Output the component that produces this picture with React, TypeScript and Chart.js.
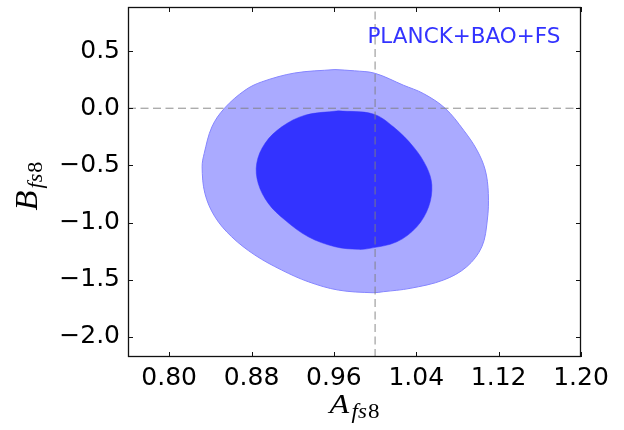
import React, { useEffect, useRef } from 'react';
import { Chart, registerables } from 'chart.js';

Chart.register(...registerables);

// ---- data ----
const outerX = [0.961, 0.98, 1.0, 1.0276, 1.047, 1.068, 1.086, 1.099, 1.107, 1.11, 1.109, 1.1037, 1.089, 1.0665, 1.034, 1.008, 0.998, 0.9643, 0.9351, 0.9093, 0.8833, 0.8607, 0.8444, 0.8347, 0.832, 0.834, 0.8415, 0.8537, 0.8736, 0.8898, 0.922];
const outerY = [0.338, 0.327, 0.305, 0.201, 0.128, 0.0, -0.192, -0.367, -0.541, -0.745, -0.978, -1.211, -1.386, -1.502, -1.575, -1.604, -1.613, -1.59, -1.517, -1.415, -1.284, -1.124, -0.949, -0.745, -0.512, -0.396, -0.163, 0.0, 0.157, 0.23, 0.308];
const innerX = [0.9643, 0.998, 1.0178, 1.0373, 1.05, 1.0551, 1.052, 1.0405, 1.0211, 0.995, 0.9838, 0.9611, 0.9351, 0.9125, 0.8963, 0.8865, 0.885, 0.893, 0.9093, 0.932];
const innerY = [-0.023, -0.05, -0.163, -0.338, -0.513, -0.672, -0.862, -1.037, -1.168, -1.225, -1.234, -1.211, -1.124, -0.978, -0.832, -0.658, -0.483, -0.308, -0.163, -0.061];

const xTicks = [0.8, 0.88, 0.96, 1.04, 1.12, 1.2];
const yTicks = [-2.0, -1.5, -1.0, -0.5, 0.0, 0.5];
const xRange = [0.76, 1.2];
const yRange = [-2.175, 0.885];
const refX = [1.0];
const refY = [0.0];
const labelText = 'PLANCK+BAO+FS';
const labelPos = [1.18, 0.567];
const xTitle = ['A', 'fs', '8'];
const yTitle = ['B', 'fs', '8'];

const closed = (xs: number[], ys: number[]) => {
  const p = xs.map((x, i) => ({ x, y: ys[i] }));
  p.push({ ...p[0] });
  return p;
};

function drawMathLabel(ctx: CanvasRenderingContext2D, parts: string[], main: number, sub: number, stretch: number) {
  const mainFont = `italic ${main}px "Liberation Serif"`;
  const subItal = `italic ${sub}px "Liberation Serif"`;
  const subNum = `${sub}px "Liberation Serif"`;
  ctx.font = mainFont;
  const w0 = ctx.measureText(parts[0]).width;
  ctx.font = subItal;
  const w1 = ctx.measureText(parts[1]).width;
  ctx.font = subNum;
  const w2 = ctx.measureText(parts[2]).width;
  const gap = 2;
  const total = w0 + gap + w1 + 1 + w2;
  ctx.scale(stretch, 1);
  let cx = -total / 2;
  ctx.textAlign = 'left';
  ctx.textBaseline = 'alphabetic';
  ctx.font = mainFont;
  ctx.fillText(parts[0], cx, 0);
  cx += w0 + gap;
  ctx.font = subItal;
  ctx.fillText(parts[1], cx, 5);
  cx += w1 + 1;
  ctx.font = subNum;
  ctx.fillText(parts[2], cx, 5);
}

const decor = {
  id: 'decor',
  afterDatasetsDraw(chart: any) {
    const { ctx, chartArea: a, scales } = chart;
    const x = scales.x;
    const y = scales.y;
    ctx.save();
    // annotation text
    ctx.fillStyle = '#3333ff';
    ctx.font = '21.5px "DejaVu Sans"';
    ctx.textAlign = 'right';
    ctx.textBaseline = 'alphabetic';
    ctx.fillText(labelText, x.getPixelForValue(labelPos[0]), y.getPixelForValue(labelPos[1]));
    // frame
    ctx.strokeStyle = '#111';
    ctx.lineWidth = 1.3;
    ctx.strokeRect(a.left + 0.5, a.top + 0.5, a.right - a.left - 1, a.bottom - a.top - 1);
    // inward ticks on all sides
    const L = 5;
    ctx.lineWidth = 1;
    ctx.beginPath();
    xTicks.forEach((v) => {
      const px = Math.round(x.getPixelForValue(v)) + 0.5;
      ctx.moveTo(px, a.bottom);
      ctx.lineTo(px, a.bottom - L);
      ctx.moveTo(px, a.top);
      ctx.lineTo(px, a.top + L);
    });
    yTicks.forEach((v) => {
      const py = Math.round(y.getPixelForValue(v)) + 0.5;
      ctx.moveTo(a.left, py);
      ctx.lineTo(a.left + L, py);
      ctx.moveTo(a.right, py);
      ctx.lineTo(a.right - L, py);
    });
    ctx.stroke();
    ctx.restore();
  },
  afterDraw(chart: any) {
    const { ctx, chartArea: a } = chart;
    ctx.save();
    ctx.fillStyle = '#000';
    ctx.translate((a.left + a.right) / 2, chart.height - 17);
    drawMathLabel(ctx, xTitle, 28, 20, 1.15);
    ctx.restore();
    ctx.save();
    ctx.fillStyle = '#000';
    ctx.translate(37, (a.top + a.bottom) / 2 + 4);
    ctx.rotate(-Math.PI / 2);
    drawMathLabel(ctx, yTitle, 31, 21, 1.05);
    ctx.restore();
  },
};

export default function App() {
  const ref = useRef<HTMLCanvasElement>(null);
  useEffect(() => {
    if (!ref.current) return;
    const chart = new Chart(ref.current, {
      type: 'scatter',
      data: {
        datasets: [
          {
            label: 'refX',
            data: [{ x: refX[0], y: yRange[0] }, { x: refX[0], y: yRange[1] }],
            showLine: true,
            borderColor: 'rgba(128,128,128,0.9)',
            borderWidth: 1,
            borderDash: [8, 4.5],
            pointRadius: 0,
            fill: false,
            order: 0,
          },
          {
            label: 'refY',
            data: [{ x: xRange[0], y: refY[0] }, { x: xRange[1], y: refY[0] }],
            showLine: true,
            borderColor: 'rgba(128,128,128,0.9)',
            borderWidth: 1,
            borderDash: [8, 4.5],
            pointRadius: 0,
            fill: false,
            order: 1,
          },
          {
            label: 'inner',
            data: closed(innerX, innerY),
            showLine: true,
            borderColor: '#3333ff',
            backgroundColor: '#3333ff',
            borderWidth: 0.5,
            pointRadius: 0,
            tension: 0.35,
            fill: 'shape',
            order: 2,
          },
          {
            label: 'outer',
            data: closed(outerX, outerY),
            showLine: true,
            borderColor: '#8585ff',
            backgroundColor: '#aaaaff',
            borderWidth: 1,
            pointRadius: 0,
            tension: 0.35,
            fill: 'shape',
            order: 3,
          },
        ],
      },
      options: {
        animation: false,
        responsive: true,
        maintainAspectRatio: false,
        layout: { padding: { top: 7, right: 43, left: 0, bottom: 0 } },
        plugins: { legend: { display: false }, tooltip: { enabled: false } },
        scales: {
          x: {
            type: 'linear',
            min: xRange[0],
            max: xRange[1],
            grid: { display: false, drawTicks: false },
            border: { display: false },
            afterBuildTicks: (s: any) => {
              s.ticks = xTicks.map((value) => ({ value }));
            },
            afterFit: (s: any) => {
              s.height = 73;
              s.paddingLeft = 0;
              s.paddingRight = 0;
              s.paddingTop = 0;
              s.paddingBottom = 0;
            },
            ticks: {
              color: '#000',
              padding: 6,
              maxRotation: 0,
              autoSkip: false,
              font: { family: '"DejaVu Sans"', size: 25 },
              callback: (v: any) => Number(v).toFixed(2),
            },
          },
          y: {
            type: 'linear',
            min: yRange[0],
            max: yRange[1],
            grid: { display: false, drawTicks: false },
            border: { display: false },
            afterBuildTicks: (s: any) => {
              s.ticks = yTicks.map((value) => ({ value }));
            },
            afterFit: (s: any) => {
              s.width = 128;
              s.paddingLeft = 0;
              s.paddingRight = 0;
              s.paddingTop = 0;
              s.paddingBottom = 0;
            },
            ticks: {
              color: '#000',
              padding: 8,
              autoSkip: false,
              font: { family: '"DejaVu Sans"', size: 25 },
              callback: (v: any) => Number(v).toFixed(1).replace('-', '\u2212'),
            },
          },
        },
      },
      plugins: [decor],
    });
    return () => chart.destroy();
  }, []);
  return (
    <div style={{ position: 'absolute', left: 0, top: 0, width: 624, height: 430, background: '#fff' }}>
      <canvas ref={ref} />
    </div>
  );
}
